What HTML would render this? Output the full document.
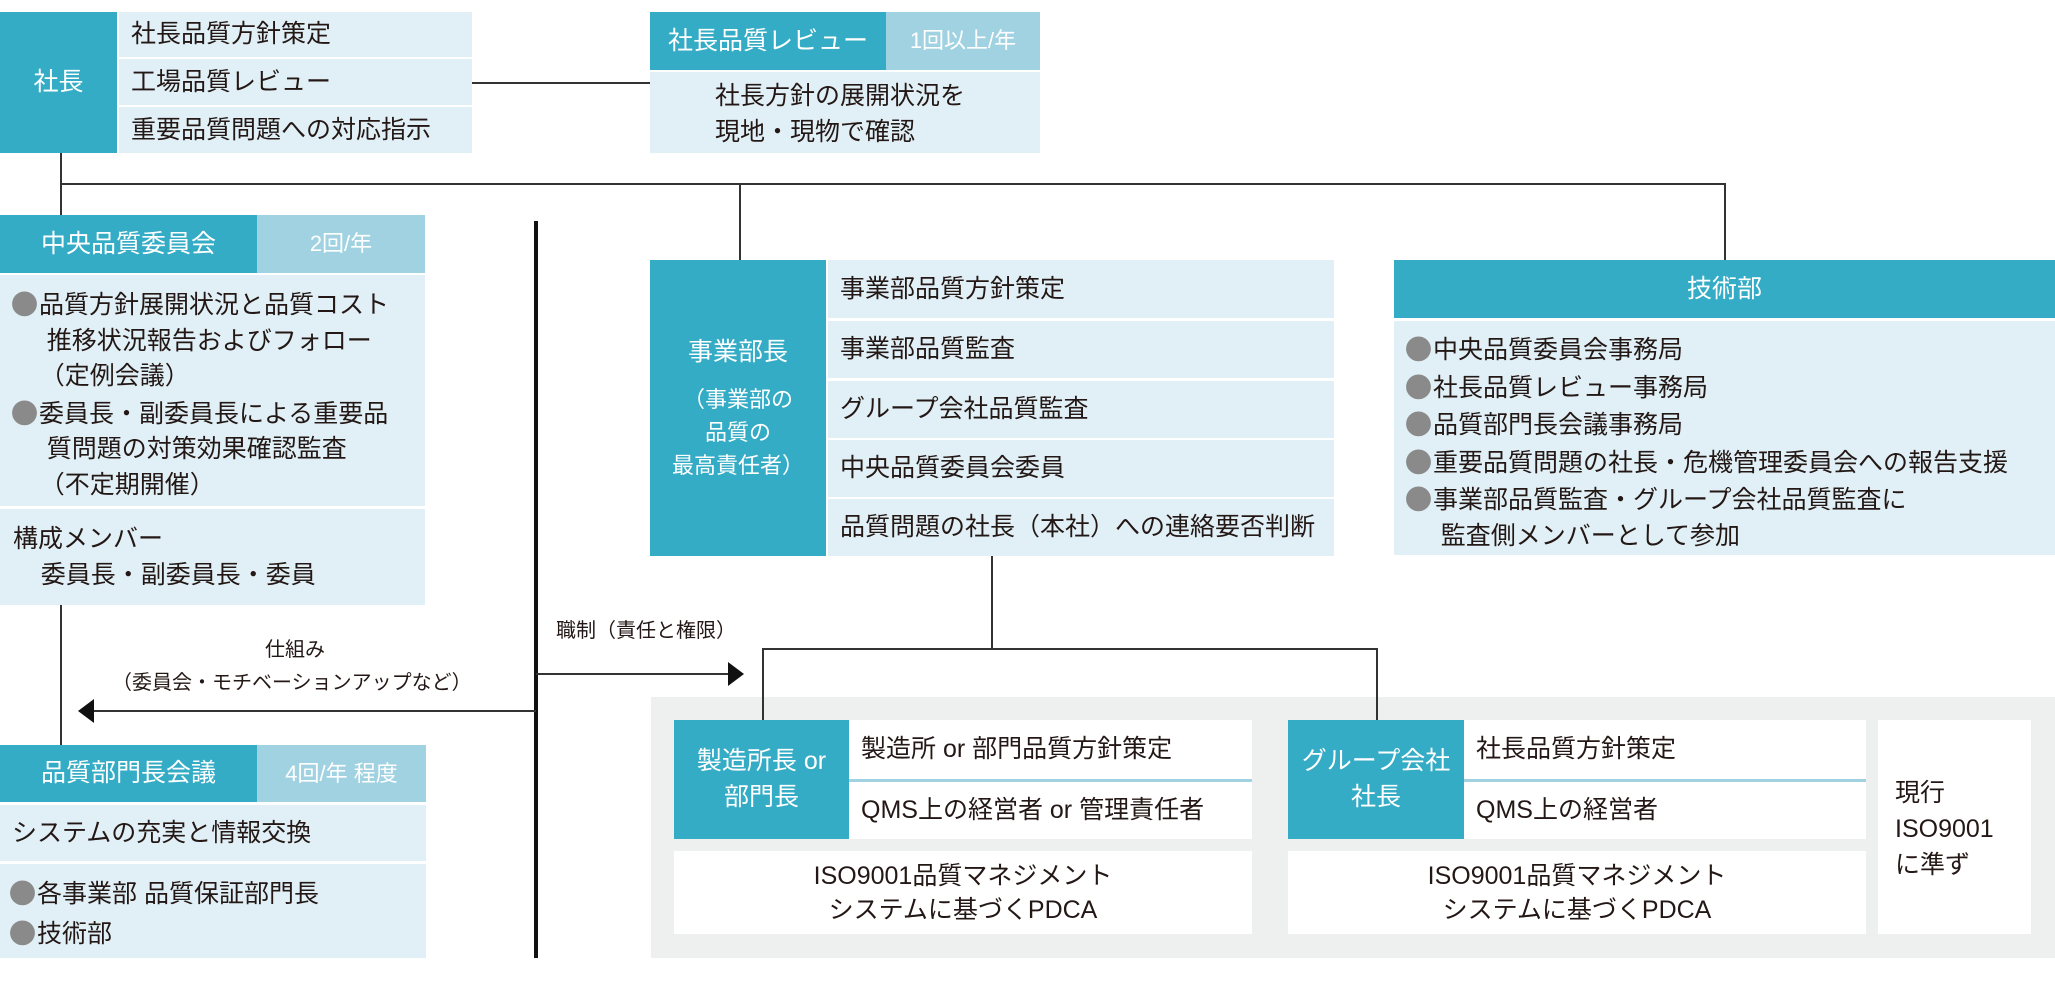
<!DOCTYPE html>
<html><head><meta charset="utf-8"><style>
*{margin:0;padding:0;box-sizing:border-box}
body{width:2055px;height:981px;background:#fff;position:relative;overflow:hidden;font-family:"Liberation Sans","Noto Sans CJK JP",sans-serif;color:#231815}
div{position:absolute}
.d{background:#35acc6;color:#fff}
.m{background:#a0d2e2;color:#fff}
.l{background:#e1f0f6}
.w{background:#fff}
.t{font-size:25px;line-height:1;white-space:nowrap}
.c{display:flex;align-items:center;justify-content:center;text-align:center}
.r{display:flex;align-items:center;padding-left:12px}
.b{color:#8a8a8a;font-family:"Noto Sans CJK JP",sans-serif;display:inline-block;width:25px;margin-right:2px;transform:scale(1.1)}
.ln{background:#333}
.lines{font-size:25px;line-height:35.5px;white-space:nowrap}
</style></head><body>
<!-- 社長 -->
<div class="d c t" style="left:0;top:12px;width:117px;height:141px;">社長</div>
<div class="l r t" style="left:119px;top:12px;width:353px;height:45px;">社長品質方針策定</div>
<div class="l r t" style="left:119px;top:59px;width:353px;height:46px;">工場品質レビュー</div>
<div class="l r t" style="left:119px;top:107px;width:353px;height:46px;">重要品質問題への対応指示</div>
<div class="ln" style="left:472px;top:82px;width:178px;height:1.5px;"></div>
<!-- review -->
<div class="d c t" style="left:650px;top:12px;width:236px;height:58px;">社長品質レビュー</div>
<div class="m c t" style="left:886px;top:12px;width:154px;height:58px;font-size:22px;">1回以上/年</div>
<div class="l" style="left:650px;top:72px;width:390px;height:81px;"></div>
<div class="lines" style="left:715px;top:78px;font-size:25px;line-height:36px;">社長方針の展開状況を<br>現地・現物で確認</div>
<!-- tree lines top -->
<div class="ln" style="left:60px;top:153px;width:1.5px;height:62px;"></div>
<div class="ln" style="left:60px;top:183px;width:1666px;height:2px;"></div>
<div class="ln" style="left:739px;top:183px;width:1.5px;height:77px;"></div>
<div class="ln" style="left:1724px;top:183px;width:1.5px;height:77px;"></div>
<!-- 中央 -->
<div class="d c t" style="left:0;top:215px;width:257px;height:58px;">中央品質委員会</div>
<div class="m c t" style="left:257px;top:215px;width:168px;height:58px;font-size:22px;">2回/年</div>
<div class="l" style="left:0;top:275px;width:425px;height:231px;"></div>
<div class="lines" style="left:12px;top:286px;"><span class="b">●</span>品質方針展開状況と品質コスト<br>&nbsp;&nbsp;&nbsp;&nbsp;&nbsp;推移状況報告およびフォロー<br>&nbsp;&nbsp;&nbsp;&nbsp;（定例会議）<br><span class="b">●</span>委員長・副委員長による重要品<br>&nbsp;&nbsp;&nbsp;&nbsp;&nbsp;質問題の対策効果確認監査<br>&nbsp;&nbsp;&nbsp;&nbsp;（不定期開催）</div>
<div class="l" style="left:0;top:509px;width:425px;height:96px;"></div>
<div class="lines" style="left:13px;top:522px;">構成メンバー<br>&nbsp;&nbsp;&nbsp;&nbsp;委員長・副委員長・委員</div>
<div class="ln" style="left:60px;top:605px;width:1.5px;height:140px;"></div>
<!-- arrows -->
<div style="left:534px;top:221px;width:4px;height:737px;background:#111"></div>
<div class="ln" style="left:92px;top:710px;width:444px;height:2px;"></div>
<svg style="position:absolute;left:78px;top:699px" width="16" height="24"><polygon points="0,12 16,0 16,24" fill="#111"/></svg>
<div class="ln" style="left:536px;top:673px;width:194px;height:2px;"></div>
<svg style="position:absolute;left:728px;top:662px" width="16" height="24"><polygon points="16,12 0,0 0,24" fill="#111"/></svg>
<div class="t" style="left:265px;top:640px;font-size:20px;">仕組み</div>
<div class="t" style="left:112px;top:673px;font-size:20px;">（委員会・モチベーションアップなど）</div>
<div class="t" style="left:556px;top:621px;font-size:20px;">職制（責任と権限）</div>
<!-- 品質部門長会議 -->
<div class="d c t" style="left:0;top:745px;width:257px;height:57px;">品質部門長会議</div>
<div class="m c t" style="left:257px;top:745px;width:169px;height:57px;font-size:22px;">4回/年 程度</div>
<div class="l r t" style="left:0;top:805px;width:426px;height:56px;">システムの充実と情報交換</div>
<div class="l" style="left:0;top:864px;width:426px;height:94px;"></div>
<div class="lines" style="left:10px;top:873px;font-size:25px;line-height:38px;"><span class="b">●</span>各事業部 品質保証部門長<br><span class="b">●</span>技術部</div>
<!-- 事業部長 -->
<div class="d" style="left:650px;top:260px;width:176px;height:296px;"></div>
<div class="t" style="left:650px;top:340px;width:176px;text-align:center;color:#fff;">事業部長</div>
<div style="left:650px;top:383px;width:176px;text-align:center;color:#fff;font-size:22px;line-height:33px;">（事業部の<br>品質の<br>最高責任者）</div>
<div class="l r t" style="left:828px;top:260px;width:506px;height:58px;">事業部品質方針策定</div>
<div class="l r t" style="left:828px;top:321px;width:506px;height:57px;">事業部品質監査</div>
<div class="l r t" style="left:828px;top:381px;width:506px;height:57px;">グループ会社品質監査</div>
<div class="l r t" style="left:828px;top:440px;width:506px;height:57px;">中央品質委員会委員</div>
<div class="l r t" style="left:828px;top:499px;width:506px;height:57px;">品質問題の社長（本社）への連絡要否判断</div>
<!-- 技術部 -->
<div class="d c t" style="left:1394px;top:260px;width:661px;height:58px;">技術部</div>
<div class="l" style="left:1394px;top:321px;width:661px;height:234px;"></div>
<div class="lines" style="left:1406px;top:331px;font-size:25px;"><span class="b">●</span>中央品質委員会事務局<br><span class="b">●</span>社長品質レビュー事務局<br><span class="b">●</span>品質部門長会議事務局<br><span class="b">●</span>重要品質問題の社長・危機管理委員会への報告支援<br><span class="b">●</span>事業部品質監査・グループ会社品質監査に<br>&nbsp;&nbsp;&nbsp;&nbsp;&nbsp;監査側メンバーとして参加</div>
<!-- lower tree -->
<div class="ln" style="left:991px;top:556px;width:1.5px;height:93px;"></div>
<div style="left:651px;top:697px;width:1404px;height:261px;background:#eef0f0"></div>
<div class="ln" style="left:762px;top:648px;width:615px;height:2px;"></div>
<div class="ln" style="left:762px;top:648px;width:1.5px;height:72px;"></div>
<div class="ln" style="left:1376px;top:648px;width:1.5px;height:72px;"></div>
<!-- 製造所長 -->
<div class="d" style="left:674px;top:720px;width:175px;height:119px;"></div>
<div style="left:674px;top:743px;width:175px;text-align:center;color:#fff;font-size:25px;line-height:36px;">製造所長 or<br>部門長</div>
<div class="w r t" style="left:849px;top:720px;width:403px;height:59px;">製造所 or 部門品質方針策定</div>
<div style="left:849px;top:779px;width:403px;height:3px;background:#a0d2e2"></div>
<div class="w r t" style="left:849px;top:782px;width:403px;height:57px;">QMS上の経営者 or 管理責任者</div>
<div class="w c" style="left:674px;top:851px;width:578px;height:83px;font-size:25px;line-height:34px;">ISO9001品質マネジメント<br>システムに基づくPDCA</div>
<!-- グループ -->
<div class="d" style="left:1288px;top:720px;width:176px;height:119px;"></div>
<div style="left:1288px;top:743px;width:176px;text-align:center;color:#fff;font-size:25px;line-height:36px;">グループ会社<br>社長</div>
<div class="w r t" style="left:1464px;top:720px;width:402px;height:59px;">社長品質方針策定</div>
<div style="left:1464px;top:779px;width:402px;height:3px;background:#a0d2e2"></div>
<div class="w r t" style="left:1464px;top:782px;width:402px;height:57px;">QMS上の経営者</div>
<div class="w c" style="left:1288px;top:851px;width:578px;height:83px;font-size:25px;line-height:34px;">ISO9001品質マネジメント<br>システムに基づくPDCA</div>
<!-- 現行 -->
<div class="w" style="left:1878px;top:720px;width:153px;height:214px;"></div>
<div style="left:1895px;top:775px;font-size:25px;line-height:36px;white-space:nowrap">現行<br>ISO9001<br>に準ず</div>
</body></html>
